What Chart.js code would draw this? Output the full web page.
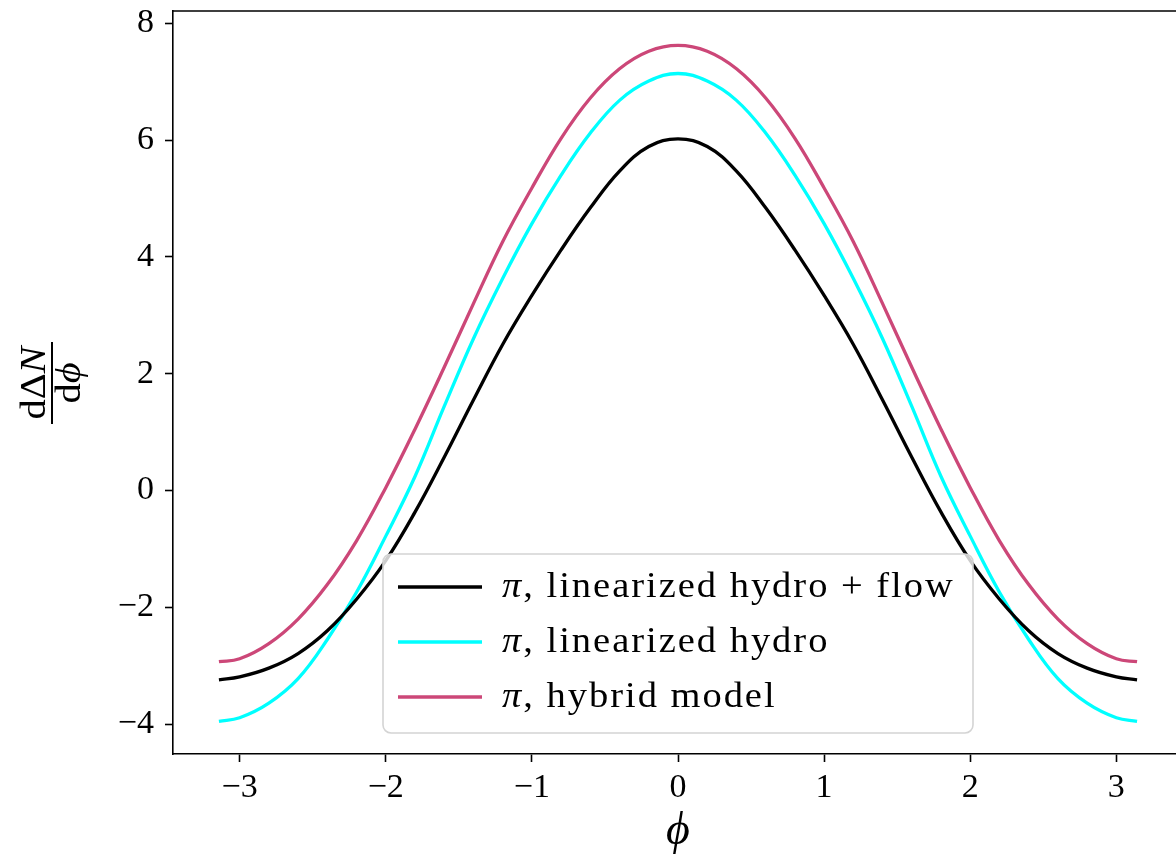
<!DOCTYPE html>
<html>
<head>
<meta charset="utf-8">
<script src="https://cdn.jsdelivr.net/npm/chart.js@4.4.1/dist/chart.umd.min.js"></script>
<style>
  html, body { margin: 0; padding: 0; overflow: hidden; background: #fff; }
</style>
</head>
<body>
<canvas id="chart" width="1184" height="864"></canvas>
<script>
// azimuthal angle samples
const phi = [-3.1416, -3.0, -2.8, -2.6, -2.4, -2.2, -2.0, -1.8, -1.6, -1.4, -1.2, -1.0, -0.8, -0.6, -0.4, -0.2, 0,
  0.2, 0.4, 0.6, 0.8, 1.0, 1.2, 1.4, 1.6, 1.8, 2.0, 2.2, 2.4, 2.6, 2.8, 3.0, 3.1416];

const hydroFlow = [-3.24, -3.19, -3.04, -2.79, -2.40, -1.86, -1.20, -0.37, 0.57, 1.55, 2.50, 3.34, 4.12, 4.84, 5.47, 5.89, 6.02,
  5.89, 5.47, 4.84, 4.12, 3.34, 2.50, 1.55, 0.57, -0.37, -1.20, -1.86, -2.40, -2.79, -3.04, -3.19, -3.24];

const hydro = [-3.95, -3.89, -3.64, -3.22, -2.55, -1.74, -0.78, 0.24, 1.44, 2.60, 3.63, 4.57, 5.40, 6.12, 6.68, 7.01, 7.14,
  7.01, 6.68, 6.12, 5.40, 4.57, 3.63, 2.60, 1.44, 0.24, -0.78, -1.74, -2.55, -3.22, -3.64, -3.89, -3.95];

const hybrid = [-2.93, -2.88, -2.62, -2.20, -1.61, -0.86, 0.05, 1.05, 2.11, 3.20, 4.26, 5.18, 6.03, 6.72, 7.22, 7.52, 7.62,
  7.52, 7.22, 6.72, 6.03, 5.18, 4.26, 3.20, 2.11, 1.05, 0.05, -0.86, -1.61, -2.20, -2.62, -2.88, -2.93];

const seriesNames = ['linearized hydro + flow', 'linearized hydro', 'hybrid model'];
const seriesColors = ['#000000', '#00ffff', '#cc4778'];

const xTicks = [-3, -2, -1, 0, 1, 2, 3];
const yTicks = [-4, -2, 0, 2, 4, 6, 8];

const serif = "'Liberation Serif', 'DejaVu Serif', serif";
Chart.defaults.font.family = serif;
Chart.defaults.color = '#000';

const fmt = v => (v < 0 ? '\u2212' + Math.abs(v) : String(v));
const toPoints = arr => phi.map((x, i) => ({ x, y: arr[i] }));

// draws a run of [text, italic] pieces, stretched a bit to look like Computer Modern
function drawPieces(ctx, pieces, x, y, size, stretch, spacing) {
  ctx.save();
  ctx.translate(x, y);
  ctx.scale(stretch, 1);
  ctx.letterSpacing = spacing + 'px';
  let cx = 0;
  pieces.forEach(([txt, it]) => {
    ctx.font = (it ? 'italic ' : '') + size + 'px ' + serif;
    ctx.fillText(txt, cx, 0);
    cx += ctx.measureText(txt).width;
  });
  ctx.restore();
}

function piecesWidth(ctx, pieces, size, stretch, spacing) {
  ctx.save();
  ctx.letterSpacing = spacing + 'px';
  let w = 0;
  pieces.forEach(([txt, it]) => {
    ctx.font = (it ? 'italic ' : '') + size + 'px ' + serif;
    w += ctx.measureText(txt).width;
  });
  ctx.restore();
  return w * stretch;
}

// top spine (matplotlib box)
const frame = {
  id: 'frame',
  afterDraw(chart) {
    const { ctx, chartArea: a } = chart;
    ctx.save();
    ctx.strokeStyle = '#000';
    ctx.lineWidth = 1.6;
    ctx.beginPath();
    ctx.moveTo(a.left, a.top);
    ctx.lineTo(a.right, a.top);
    ctx.lineTo(a.right, a.bottom);
    ctx.stroke();
    ctx.restore();
  }
};

// legend box inside the axes, lower middle
const legendBox = {
  id: 'legendBox',
  afterDraw(chart) {
    const ctx = chart.ctx;
    const x = 383, y = 554, w = 590, h = 179, r = 8;
    ctx.save();
    ctx.fillStyle = 'rgba(255,255,255,0.8)';
    ctx.strokeStyle = '#d4d4d4';
    ctx.lineWidth = 1.6;
    ctx.beginPath();
    ctx.roundRect(x, y, w, h, r);
    ctx.fill();
    ctx.stroke();
    chart.data.datasets.forEach((ds, i) => {
      const cy = y + 33 + i * 55;
      ctx.strokeStyle = ds.borderColor;
      ctx.lineWidth = 3.3;
      ctx.beginPath();
      ctx.moveTo(398, cy);
      ctx.lineTo(482, cy);
      ctx.stroke();
      ctx.fillStyle = '#000';
      ctx.textBaseline = 'middle';
      drawPieces(ctx, [['\u03c0', true], [', ' + ds.label, false]], 502, cy + 1, 35, 1.1, 1.8);
    });
    ctx.restore();
  }
};

// y label as a fraction dΔN / dϕ, rotated
const yFraction = {
  id: 'yFraction',
  afterDraw(chart) {
    const ctx = chart.ctx;
    ctx.save();
    ctx.translate(52, 383);
    ctx.rotate(-Math.PI / 2);
    ctx.strokeStyle = '#000';
    ctx.lineWidth = 2;
    ctx.beginPath();
    ctx.moveTo(-41, 0);
    ctx.lineTo(41, 0);
    ctx.stroke();
    ctx.fillStyle = '#000';
    ctx.textBaseline = 'alphabetic';
    const num = [['d\u0394', false], ['N', true]];
    const den = [['d', false], ['\u03d5', true]];
    const wn = piecesWidth(ctx, num, 36, 1.12, 0);
    const wd = piecesWidth(ctx, den, 36, 1.12, 0);
    drawPieces(ctx, num, -wn / 2, -7, 36, 1.12, 0);
    drawPieces(ctx, den, -wd / 2, 28, 36, 1.12, 0);
    ctx.restore();
  }
};

new Chart(document.getElementById('chart'), {
  type: 'line',
  data: {
    datasets: [hydroFlow, hydro, hybrid].map((arr, i) => ({
      label: seriesNames[i],
      data: toPoints(arr),
      borderColor: seriesColors[i],
      backgroundColor: seriesColors[i],
      borderWidth: 3.3,
      pointRadius: 0,
      tension: 0.4,
      fill: false
    }))
  },
  options: {
    responsive: false,
    animation: false,
    layout: { padding: { top: 11, right: 1, left: 0, bottom: 0 } },
    plugins: {
      legend: { display: false },
      tooltip: { enabled: false }
    },
    scales: {
      x: {
        type: 'linear',
        min: -3.456,
        max: 3.456,
        afterBuildTicks: s => { s.ticks = xTicks.map(v => ({ value: v })); },
        afterFit: s => { s.height = 110; s.paddingLeft = 0; s.paddingRight = 0; },
        ticks: { callback: fmt, font: { size: 34 }, padding: 6, maxRotation: 0 },
        grid: { drawOnChartArea: false, tickLength: 8, tickColor: '#000', tickWidth: 1.6 },
        border: { color: '#000', width: 1.6 },
        title: { display: true, text: '\u03d5', font: { size: 46, style: 'italic' }, padding: { top: 12 } }
      },
      y: {
        min: -4.51,
        max: 8.21,
        afterBuildTicks: s => { s.ticks = yTicks.map(v => ({ value: v })); },
        afterFit: s => { s.width = 173; s.paddingTop = 0; s.paddingBottom = 0; },
        ticks: { callback: fmt, font: { size: 34 }, padding: 11 },
        grid: { drawOnChartArea: false, tickLength: 8, tickColor: '#000', tickWidth: 1.6 },
        border: { color: '#000', width: 1.6 }
      }
    }
  },
  plugins: [frame, legendBox, yFraction]
});
</script>
</body>
</html>
